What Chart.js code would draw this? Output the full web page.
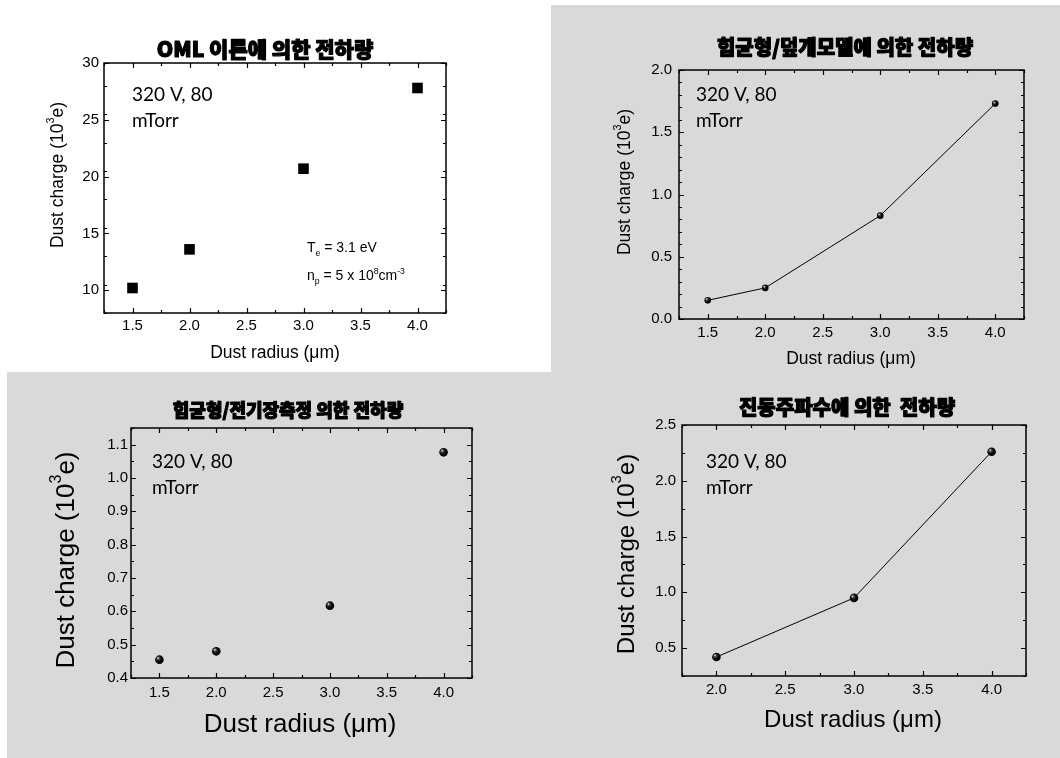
<!DOCTYPE html>
<html>
<head>
<meta charset="utf-8">
<script src="https://cdn.jsdelivr.net/npm/chart.js@4.4.0/dist/chart.umd.min.js"></script>
<style>
html, body { margin: 0; padding: 0; background: #fff; }
#page { position: relative; width: 1060px; height: 758px; overflow: hidden; }
.bg { position: absolute; background: #d9d9d9; }
canvas { position: absolute; left: 0; top: 0; }
</style>
</head>
<body>
<div id="page">
  <div class="bg" style="left:551px;top:5px;width:509px;height:367px"></div>
  <div class="bg" style="left:7px;top:372px;width:1053px;height:386px"></div>
  <canvas id="c1" width="1060" height="758"></canvas>
  <canvas id="c2" width="1060" height="758"></canvas>
  <canvas id="c3" width="1060" height="758"></canvas>
  <canvas id="c4" width="1060" height="758"></canvas>
</div>
<script>
// 데이터 (값은 그림에서 읽음)
const omlRadius = [1.5, 2.0, 3.0, 4.0];
const omlCharge = [10.2, 13.6, 20.7, 27.8];

const sheathRadius = [1.5, 2.0, 3.0, 4.0];
const sheathCharge = [0.15, 0.25, 0.83, 1.73];

const fieldRadius = [1.5, 2.0, 3.0, 4.0];
const fieldCharge = [0.455, 0.48, 0.617, 1.077];

const freqRadius = [2.0, 3.0, 4.0];
const freqCharge = [0.42, 0.95, 2.26];

// 눈금
const xTicksA = [1.5, 2.0, 2.5, 3.0, 3.5, 4.0];
const xTicksB = [2.0, 2.5, 3.0, 3.5, 4.0];
const yTicks1 = [10, 15, 20, 25, 30];
const yTicks2 = [0.0, 0.5, 1.0, 1.5, 2.0];
const yTicks3 = [0.4, 0.5, 0.6, 0.7, 0.8, 0.9, 1.0, 1.1];
const yTicks4 = [0.5, 1.0, 1.5, 2.0, 2.5];

const titles = ['OML 이론에 의한 전하량', '힘균형/덮개모델에 의한 전하량', '힘균형/전기장측정 의한 전하량', '진동주파수에 의한  전하량'];
const condText = ['320 V, 80', 'mTorr'];

const SANS = '"Liberation Sans", Arial, sans-serif';
const KR = '"Noto Sans CJK KR", sans-serif';
const NOTE = 'Lato, "Open Sans", sans-serif';

// 서브/위첨자 텍스트 그리기
function richWidth(ctx, parts, size, family) {
  let w = 0;
  parts.forEach(p => {
    const s = (p.sub || p.sup) ? size * 0.62 : size;
    ctx.font = s + 'px ' + family;
    w += ctx.measureText(p.t).width;
  });
  return w;
}
function drawRich(ctx, parts, x, y, size, family) {
  ctx.textAlign = 'left';
  parts.forEach(p => {
    const s = (p.sub || p.sup) ? size * 0.62 : size;
    const dy = p.sub ? size * 0.32 : p.sup ? -size * 0.42 : 0;
    ctx.font = s + 'px ' + family;
    ctx.fillText(p.t, x, y + dy);
    x += ctx.measureText(p.t).width;
  });
}

const framePlugin = {
  id: 'frame',
  afterDraw(chart, args, o) {
    const {ctx, chartArea: a, scales: {x, y}} = chart;
    ctx.save();
    ctx.strokeStyle = '#000';
    ctx.lineWidth = 1.5;
    ctx.strokeRect(a.left, a.top, a.right - a.left, a.bottom - a.top);
    ctx.lineWidth = 1.2;
    ctx.beginPath();
    const mark = (axis, v, len) => {
      if (axis === 'x') {
        const px = Math.round(x.getPixelForValue(v)) + 0.5;
        ctx.moveTo(px, a.bottom); ctx.lineTo(px, a.bottom - len);
        ctx.moveTo(px, a.top); ctx.lineTo(px, a.top + len);
      } else {
        const py = Math.round(y.getPixelForValue(v)) + 0.5;
        ctx.moveTo(a.left, py); ctx.lineTo(a.left + len, py);
        ctx.moveTo(a.right, py); ctx.lineTo(a.right - len, py);
      }
    };
    for (let v = x.min; v <= x.max + 1e-9; v += o.xMinor) mark('x', v, 3);
    for (let v = y.min; v <= y.max + 1e-9; v += o.yMinor) mark('y', v, 3);
    x.ticks.forEach(t => mark('x', t.value, 5));
    y.ticks.forEach(t => mark('y', t.value, 5));
    ctx.stroke();

    // 제목, 축 제목, 주석
    ctx.fillStyle = '#000';
    ctx.textBaseline = 'middle';
    ctx.textAlign = 'center';
    ctx.font = '900 ' + o.title.size + 'px ' + KR;
    ctx.lineWidth = 1.2;
    ctx.lineJoin = 'round';
    ctx.strokeText(o.title.text, o.title.x, o.title.y);
    ctx.fillText(o.title.text, o.title.x, o.title.y);

    const xt = [{t: 'Dust radius ('}, {t: 'μ'}, {t: 'm)'}];
    let w = richWidth(ctx, xt, o.xTitle.size, SANS);
    ctx.textBaseline = 'middle';
    drawRich(ctx, xt, o.xTitle.x - w / 2, o.xTitle.y, o.xTitle.size, SANS);

    const yt = [{t: 'Dust charge (10'}, {t: '3', sup: true}, {t: 'e)'}];
    w = richWidth(ctx, yt, o.yTitle.size, SANS);
    ctx.save();
    ctx.translate(o.yTitle.x, o.yTitle.y);
    ctx.rotate(-Math.PI / 2);
    drawRich(ctx, yt, -w / 2, 0, o.yTitle.size, SANS);
    ctx.restore();

    ctx.textAlign = 'left';
    ctx.font = o.note.size + 'px ' + NOTE;
    ctx.fillText(condText[0], o.note.x, o.note.y1);
    ctx.fillText(condText[1], o.note.x, o.note.y2);

    if (o.extra) {
      ctx.textBaseline = 'alphabetic';
      o.extra.lines.forEach(l => drawRich(ctx, l.parts, o.extra.x, l.y, o.extra.size, SANS));
    }
    ctx.restore();
  }
};

// 구슬 모양 점: 스케일로 위치를 구해 방사형 그라데이션
function ball(ctx, xs, ys, r) {
  const c = ctx.chart;
  if (ctx.type !== 'data' || !c.scales.x || !c.chartArea) return '#000';
  const px = c.scales.x.getPixelForValue(xs[ctx.dataIndex]);
  const py = c.scales.y.getPixelForValue(ys[ctx.dataIndex]);
  if (!isFinite(px) || !isFinite(py)) return '#000';
  const g = c.ctx.createRadialGradient(px - r * 0.35, py - r * 0.4, 0.2, px - r * 0.15, py - r * 0.15, r * 1.05);
  g.addColorStop(0, '#f0f0f0');
  g.addColorStop(0.22, '#555555');
  g.addColorStop(0.6, '#0a0a0a');
  g.addColorStop(1, '#000000');
  return g;
}

function makeChart(id, p) {
  const yW = 40, xH = 30;
  const fmt = d => v => Number(v).toFixed(d);
  return new Chart(document.getElementById(id), {
    type: 'scatter',
    data: {
      datasets: [{
        data: p.xs.map((v, i) => ({x: v, y: p.ys[i]})),
        showLine: p.line,
        borderColor: '#000',
        borderWidth: 1,
        pointStyle: p.square ? 'rect' : 'circle',
        pointRadius: p.r,
        pointBorderWidth: 0,
        pointBorderColor: 'rgba(0,0,0,0)',
        backgroundColor: '#000',
        pointBackgroundColor: p.square ? '#000' : (c => ball(c, p.xs, p.ys, p.r))
      }]
    },
    options: {
      responsive: false,
      animation: false,
      events: [],
      layout: {padding: {left: p.area.l - yW, top: p.area.t, right: 1060 - p.area.r, bottom: 758 - p.area.b - xH}},
      plugins: {
        legend: {display: false},
        tooltip: {enabled: false},
        frame: p.frame
      },
      scales: {
        x: {
          type: 'linear', min: p.xMin, max: p.xMax, bounds: 'data',
          grid: {display: false, drawTicks: false},
          border: {display: false},
          afterBuildTicks: s => { s.ticks = p.xTicks.map(v => ({value: v})); },
          afterFit: s => { s.height = xH; },
          ticks: {color: '#000', font: {family: SANS, size: 15}, padding: p.xPad, maxRotation: 0, callback: fmt(1)}
        },
        y: {
          type: 'linear', min: p.yMin, max: p.yMax, bounds: 'data',
          grid: {display: false, drawTicks: false},
          border: {display: false},
          afterBuildTicks: s => { s.ticks = p.yTicks.map(v => ({value: v})); },
          afterFit: s => { s.width = yW; },
          ticks: {color: '#000', font: {family: SANS, size: 15}, padding: p.yPad, callback: fmt(p.yDec)}
        }
      }
    },
    plugins: [framePlugin]
  });
}

makeChart('c1', {
  xs: omlRadius, ys: omlCharge, line: false, square: true, r: 7.5,
  area: {l: 104, t: 63, r: 446, b: 313},
  xMin: 1.25, xMax: 4.25, yMin: 8, yMax: 30, xTicks: xTicksA, yTicks: yTicks1, yDec: 0, xPad: 4, yPad: 5,
  frame: {
    xMinor: 0.25, yMinor: 2.5,
    title: {text: titles[0], x: 265, y: 49, size: 21},
    xTitle: {x: 275, y: 353, size: 17.5},
    yTitle: {x: 58, y: 175, size: 17.5},
    note: {x: 132, y1: 95, y2: 121, size: 19},
    extra: {x: 307, size: 14, lines: [
      {y: 252, parts: [{t: 'T'}, {t: 'e', sub: true}, {t: ' = 3.1 eV'}]},
      {y: 280, parts: [{t: 'n'}, {t: 'p', sub: true}, {t: ' = 5 x 10'}, {t: '8', sup: true}, {t: 'cm'}, {t: '-3', sup: true}]}
    ]}
  }
});

makeChart('c2', {
  xs: sheathRadius, ys: sheathCharge, line: true, square: false, r: 3.3,
  area: {l: 679, t: 70, r: 1024, b: 319},
  xMin: 1.25, xMax: 4.25, yMin: 0, yMax: 2.0, xTicks: xTicksA, yTicks: yTicks2, yDec: 1, xPad: 5, yPad: 7,
  frame: {
    xMinor: 0.25, yMinor: 0.1,
    title: {text: titles[1], x: 845, y: 47, size: 20},
    xTitle: {x: 851, y: 359, size: 17.5},
    yTitle: {x: 625, y: 182, size: 17.5},
    note: {x: 696, y1: 95, y2: 121, size: 19}
  }
});

makeChart('c3', {
  xs: fieldRadius, ys: fieldCharge, line: false, square: false, r: 4.3,
  area: {l: 131, t: 428, r: 472, b: 678},
  xMin: 1.25, xMax: 4.25, yMin: 0.4, yMax: 1.15, xTicks: xTicksA, yTicks: yTicks3, yDec: 1, xPad: 6, yPad: 3,
  frame: {
    xMinor: 0.25, yMinor: 0.05,
    title: {text: titles[2], x: 288, y: 410, size: 18},
    xTitle: {x: 300, y: 725, size: 26},
    yTitle: {x: 67, y: 560, size: 26},
    note: {x: 152, y1: 462, y2: 488, size: 19}
  }
});

makeChart('c4', {
  xs: freqRadius, ys: freqCharge, line: true, square: false, r: 4.3,
  area: {l: 682, t: 425, r: 1026, b: 676},
  xMin: 1.75, xMax: 4.25, yMin: 0.25, yMax: 2.5, xTicks: xTicksB, yTicks: yTicks4, yDec: 1, xPad: 5, yPad: 6,
  frame: {
    xMinor: 0.25, yMinor: 0.25,
    title: {text: titles[3], x: 847, y: 407, size: 20},
    xTitle: {x: 853, y: 720, size: 24},
    yTitle: {x: 627, y: 554, size: 24},
    note: {x: 706, y1: 462, y2: 488, size: 19}
  }
});
</script>
</body>
</html>
